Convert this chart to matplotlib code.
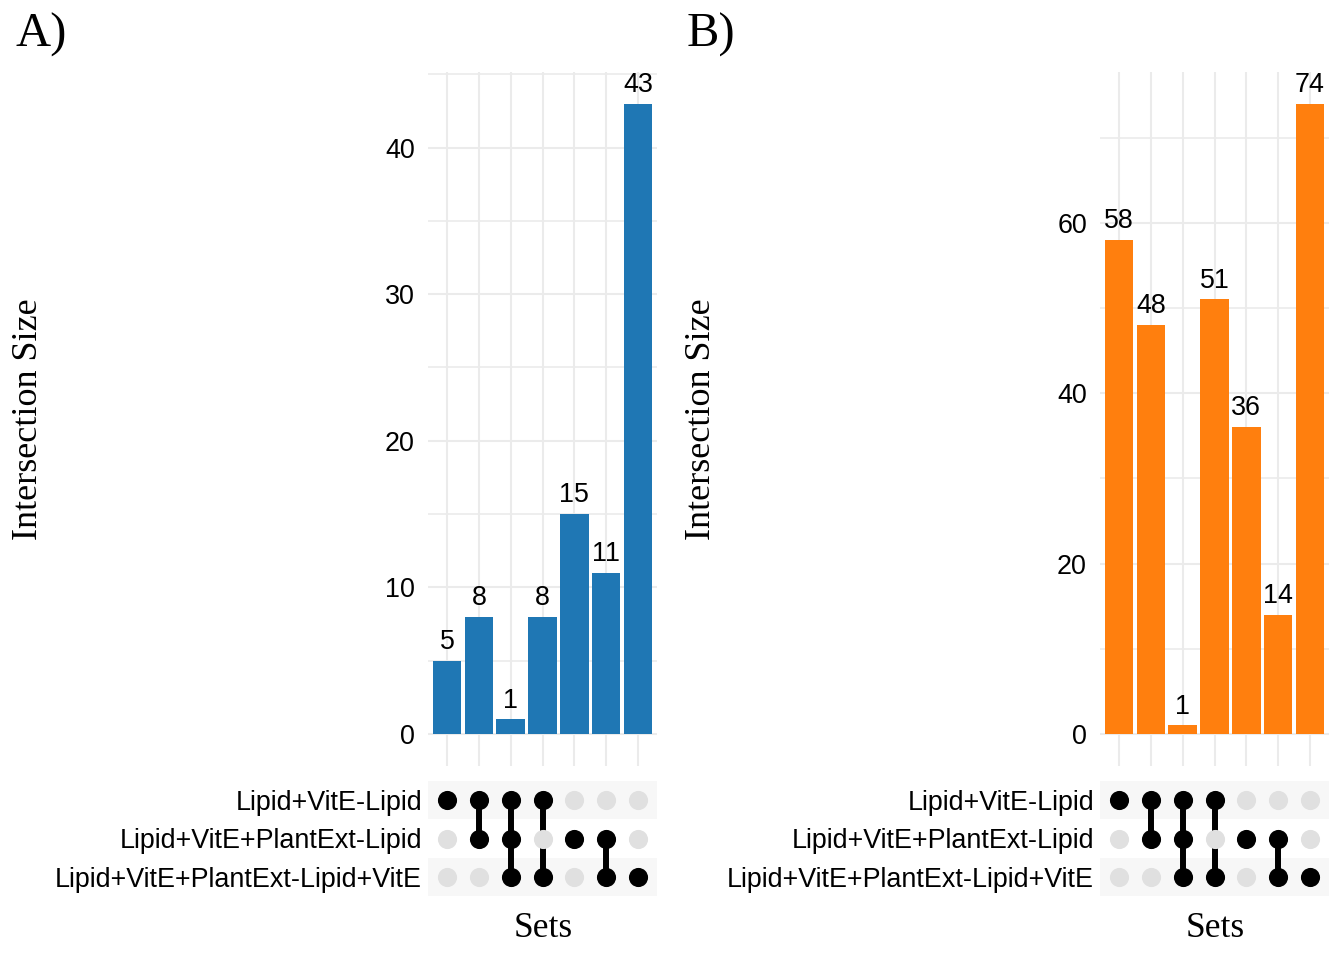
import numpy as np
import matplotlib
matplotlib.use("Agg")
import matplotlib.pyplot as plt
from matplotlib.ticker import MultipleLocator

# ── Data ──
set_names = ["Lipid+VitE-Lipid",
             "Lipid+VitE+PlantExt-Lipid",
             "Lipid+VitE+PlantExt-Lipid+VitE"]
# membership of each intersection column (row indices present)
combos = [[0], [0, 1], [0, 1, 2], [0, 2], [1], [1, 2], [2]]
sizes_a = [5, 8, 1, 8, 15, 11, 43]
sizes_b = [58, 48, 1, 51, 36, 14, 74]
colour_a = "#1f77b4"
colour_b = "#ff7f0e"

W, H = 1344, 960
SANS = "Liberation Sans"
SERIF = "Liberation Serif"
GRID = "#ebebeb"
FS = 19.4


def px_axes(fig, left, top, right, bottom):
    return fig.add_axes([left / W, (H - bottom) / H, (right - left) / W, (bottom - top) / H])


def upset_panel(fig, dx, sizes, colour, tag, major):
    n = len(sizes)
    x = np.arange(n)

    # ── bars ──
    ax = px_axes(fig, 428 + dx, 72, 657 + dx, 766)
    top = max(sizes) * 1.05
    ax.set_xlim(-0.6, n - 0.4)
    ax.bar(x, sizes, width=0.9, color=colour, zorder=3)
    for xi, v in zip(x, sizes):
        ax.annotate(str(v), (xi, v), xytext=(0, 8.5), textcoords="offset points",
                    ha="center", va="baseline", fontsize=FS, family=SANS, zorder=4)
    ax.yaxis.set_major_locator(MultipleLocator(major))
    ax.yaxis.set_minor_locator(MultipleLocator(major / 2))
    ax.set_ylim(-top * 32 / 662, top)
    ax.set_xticks(x)
    ax.tick_params(axis="x", length=0, labelbottom=False)
    ax.tick_params(axis="y", which="both", length=0, pad=9.4, labelsize=FS)
    for lab in ax.get_yticklabels():
        lab.set_family(SANS)
    # horizontal grid only above zero
    for yv in np.arange(0, top, major / 2):
        ax.axhline(yv, color=GRID, lw=1.5 if yv % major == 0 else 1.2, zorder=1)
    for xi in x:
        ax.axvline(xi, color=GRID, lw=1.5, zorder=1)
    for s in ax.spines.values():
        s.set_visible(False)

    # ── matrix ──
    mx = px_axes(fig, 428 + dx, 781, 657 + dx, 896)
    mx.set_xlim(-0.6, n - 0.4)
    mx.set_ylim(len(set_names) - 0.5, -0.5)
    for r in range(len(set_names)):
        if r % 2 == 0:
            mx.axhspan(r - 0.5, r + 0.5, color="#f7f7f7", lw=0, zorder=0)
    for xi, members in enumerate(combos):
        for r in range(len(set_names)):
            c = "black" if r in members else "#e0e0e0"
            mx.scatter(xi, r, s=190, color=c, lw=0, zorder=3)
        if len(members) > 1:
            mx.plot([xi, xi], [min(members), max(members)], color="black", lw=4.3, zorder=2)
    mx.set_yticks(range(len(set_names)))
    mx.set_yticklabels(set_names, fontsize=FS, family=SANS)
    mx.set_xticks([])
    mx.tick_params(axis="y", length=0, pad=4.3)
    for s in mx.spines.values():
        s.set_visible(False)

    fig.text((15 + dx) / W, (H - 47) / H, tag, fontsize=35, family=SERIF,
             ha="left", va="baseline")
    fig.text((29 + dx) / W, (H - 419) / H, "Intersection Size", fontsize=26, family=SERIF,
             rotation=90, ha="center", va="center")
    fig.text((543 + dx) / W, (H - 937) / H, "Sets", fontsize=25.5, family=SERIF,
             ha="center", va="baseline")


fig = plt.figure(figsize=(W / 100, H / 100), dpi=100)
upset_panel(fig, 0, sizes_a, colour_a, "A)", 10)
upset_panel(fig, 672, sizes_b, colour_b, "B)", 20)
fig.savefig("out.png", dpi=100, facecolor="white")
